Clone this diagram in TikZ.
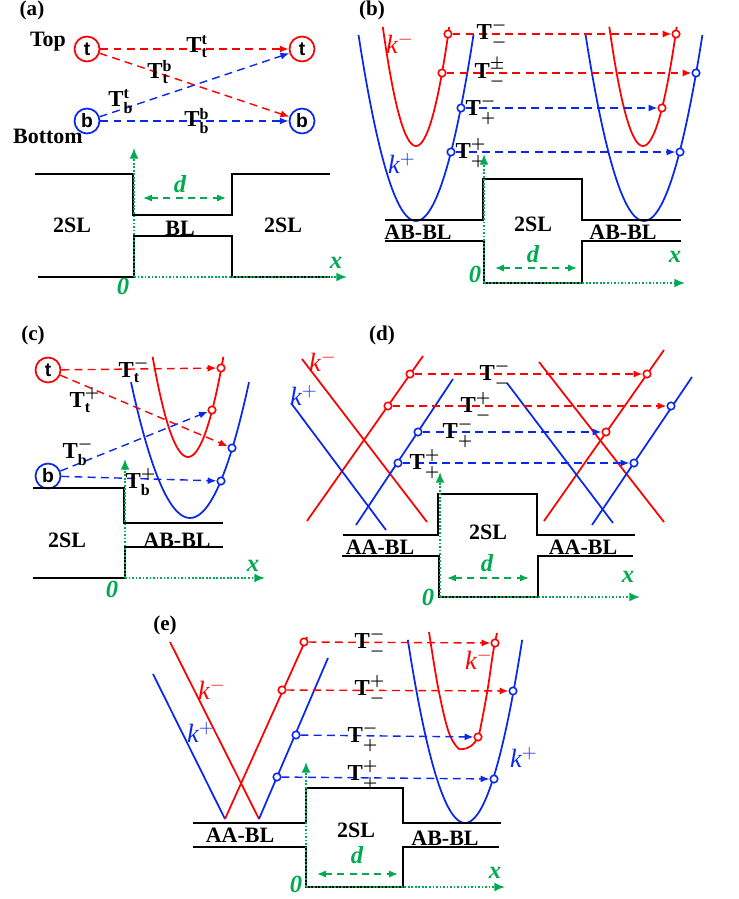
\documentclass[tikz,border=0pt]{standalone}
\usepackage{amsmath,amssymb}
\usepackage{fontspec}
\setmainfont{Liberation Serif}
\setsansfont{Liberation Sans}
\usepackage{tikz}
\usetikzlibrary{arrows.meta,positioning,calc}
\definecolor{rojo}{RGB}{255,0,0}
\definecolor{azul}{RGB}{10,40,235}
\definecolor{verde}{RGB}{0,170,80}
\newcommand\Tcoef[2]{$\mathbf{T}^{#1}_{#2}$}
\newcommand\mns{\boldsymbol{-}}
\newcommand\pls{\boldsymbol{+}}
\tikzset{
  perfil/.style={line width=1.1pt,black},
  banda/.style={line width=1pt,smooth,samples=41},
  eje/.style={verde,line width=1pt,densely dotted,-{Latex[length=6pt,width=5pt]}},
  cota/.style={verde,line width=0.8pt,dash pattern=on 4pt off 3pt,
               {Latex[length=5pt,width=4pt]}-{Latex[length=5pt,width=4pt]}},
  salto/.style={line width=0.8pt,dash pattern=on 4.5pt off 3pt,-{Latex[length=5pt,width=4pt]}},
  pto/.style={circle,draw,fill=white,line width=0.9pt,inner sep=0pt,minimum size=0.15cm},
  capa/.style={circle,draw,line width=1pt,inner sep=0pt,minimum size=0.5cm,
               font=\sffamily\bfseries\fontsize{11}{12}\selectfont},
  rot/.style={inner sep=0pt,font=\bfseries\fontsize{12.5}{14}\selectfont},
  panel/.style={inner sep=0pt,font=\bfseries\fontsize{12}{13}\selectfont},
  coef/.style={inner sep=0pt,font=\fontsize{13}{14}\selectfont},
  var/.style={inner sep=0pt,verde,font=\bfseries\itshape\fontsize{14}{15}\selectfont},
  onda/.style={inner sep=0pt,font=\itshape\fontsize{15}{16}\selectfont},
}
\begin{document}
\begin{tikzpicture}[x=0.02cm,y=-0.02cm]
\useasboundingbox (0,0) rectangle (738,899);

\node[panel] (pa) at (32,10) {(a)};
\node[rot] (top) at (48,42) {Top};
\node[rot] (bot) at (48,136) {Bottom};
\node[capa,draw=rojo] (tL) at (87,49) {t};
\node[capa,draw=rojo] (tR) at (302,49) {t};
\node[capa,draw=azul] (bL) at (87,121) {b};
\node[capa,draw=azul] (bR) at (302,121) {b};
\draw[salto,rojo] (tL) -- (tR);
\draw[salto,rojo] (tL) -- (bR);
\draw[salto,azul] (bL) -- (tR);
\draw[salto,azul] (bL) -- (bR);
\node[coef] (att) at (197,47) {\Tcoef{\mathbf{t}}{\mathbf{t}}};
\node[coef] (atb) at (160,72) {\Tcoef{\mathbf{b}}{\mathbf{t}}};
\node[coef] (abt) at (121,102) {\Tcoef{\mathbf{t}}{\mathbf{b}}};
\node[coef] (abb) at (197,121) {\Tcoef{\mathbf{b}}{\mathbf{b}}};
\draw[perfil] (35,174) -- (133,174) -- (133,215) -- (232,215) -- (232,174) -- (330,174);
\draw[perfil] (38,277) -- (134,277) -- (134,236) -- (232,236) -- (232,277) -- (330,277);
\coordinate (oa) at (134,277);
\draw[eje] (oa) -- ++(0,-129);
\draw[eje] (oa) -- ++(213,0);
\draw[cota] (143,198) -- (226,198);
\node[var] (da) at (180,184) {d};
\node[var] (za) at (123,286) {0};
\node[var] (xa) at (336,263) {x};
\node[rot] (sla) at (72,225) {2SL};
\node[rot] (bla) at (180,228) {BL};
\node[rot] (sra) at (283,225) {2SL};

\node[panel] (pb) at (372,10) {(b)};
\draw[banda,azul] plot[domain=-57.5:57.5] ({416+\x},{221-0.0563*(\x)^2});
\draw[banda,rojo] plot[domain=-33.2:33.2] ({416+\x},{146-0.108*(\x)^2});
\draw[banda,azul] plot[domain=-58.4:58.4] ({644+\x},{221-0.0545*(\x)^2});
\draw[banda,rojo] plot[domain=-33.7:33.7] ({643+\x},{146-0.105*(\x)^2});
\node[onda,rojo] (kmb) at (400,43) {k$^{-}$};
\node[onda,azul] (kpb) at (402,163) {k$^{+}$};
\node[pto,draw=rojo] (b1) at (448,34) {};
\node[pto,draw=rojo] (b2) at (442,73) {};
\node[pto,draw=azul] (b3) at (461,108) {};
\node[pto,draw=azul] (b4) at (451,152) {};
\node[pto,draw=rojo] (b1r) at (676,34) {};
\node[pto,draw=azul] (b2r) at (696,73) {};
\node[pto,draw=rojo] (b3r) at (662,108) {};
\node[pto,draw=azul] (b4r) at (680,152) {};
\draw[salto,rojo] (b1) -- (b1r);
\draw[salto,rojo] (b2) -- (b2r);
\draw[salto,azul] (b3) -- (b3r);
\draw[salto,azul] (b4) -- (b4r);
\node[coef] (bmm) at (492,34) {\Tcoef{\mns}{\mns}};
\node[coef] (bmp) at (490,73) {\Tcoef{\boldsymbol{\pm}}{\mns}};
\node[coef] (bpm) at (481,110) {\Tcoef{\mns}{\pls}};
\node[coef] (bpp) at (471,153) {\Tcoef{\pls}{\pls}};
\draw[perfil] (385,220) -- (483,220) -- (483,179) -- (582,179) -- (582,220) -- (681,220);
\draw[perfil] (385,241) -- (484,241) -- (484,283) -- (582,283) -- (582,241) -- (681,241);
\coordinate (ob) at (484,283);
\draw[eje] (ob) -- ++(0,-129);
\draw[eje] (ob) -- ++(201,0);
\draw[cota] (495,268) -- (577,268);
\node[var] (db) at (533,254) {d};
\node[var] (zb) at (475,274) {0};
\node[var] (xb) at (675,257) {x};
\node[rot] (slb) at (533,224) {2SL};
\node[rot] (alb) at (418,232) {AB-BL};
\node[rot] (arb) at (623,232) {AB-BL};

\node[panel] (pc) at (33,335) {(c)};
\draw[banda,rojo] plot[domain=-35.4:35.4] ({188+\x},{457-0.08*(\x)^2});
\draw[banda,azul] plot[domain=-59:59] ({190+\x},{518-0.039*(\x)^2});
\node[capa,draw=rojo] (tc) at (48,370) {t};
\node[capa,draw=azul] (bc) at (48,476) {b};
\node[pto,draw=rojo] (c1) at (221,368) {};
\node[pto,draw=rojo] (c2) at (212,410) {};
\node[pto,draw=azul] (c3) at (232,448) {};
\node[pto,draw=azul] (c4) at (221,481) {};
\draw[salto,rojo] (tc) -- (c1);
\draw[salto,rojo] (tc) -- (c3);
\draw[salto,azul] (bc) -- (c2);
\draw[salto,azul] (bc) -- (c4);
\node[coef] (ctm) at (134,370) {\Tcoef{\mns}{\mathbf{t}}};
\node[coef] (ctp) at (85,400) {\Tcoef{\pls}{\mathbf{t}}};
\node[coef] (cbm) at (78,452) {\Tcoef{\mns}{\mathbf{b}}};
\node[coef] (cbp) at (141,482) {\Tcoef{\pls}{\mathbf{b}}};
\draw[perfil] (33,488) -- (124,488) -- (124,523) -- (223,523);
\draw[perfil] (33,578) -- (125,578) -- (125,547) -- (223,547);
\coordinate (oc) at (125,578);
\draw[eje] (oc) -- ++(0,-119);
\draw[eje] (oc) -- ++(140,0);
\node[var] (zc) at (112,589) {0};
\node[var] (xc) at (253,566) {x};
\node[rot] (slc) at (67,540) {2SL};
\node[rot] (alc) at (177,540) {AB-BL};

\node[panel] (pd) at (382,335) {(d)};
\draw[banda,rojo] (302,359) -- (427,522);
\draw[banda,rojo] (307,521) -- (423,356);
\draw[banda,azul] (291,403) -- (386,530);
\draw[banda,azul] (356,525) -- (453,379);
\draw[banda,rojo] (539,362) -- (664,522);
\draw[banda,rojo] (544,521) -- (664,350);
\draw[banda,azul] (507,383) -- (613,523);
\draw[banda,azul] (592,525) -- (692,377);
\node[onda,rojo] (kmd) at (323,361) {k$^{-}$};
\node[onda,azul] (kpd) at (304,395) {k$^{+}$};
\node[pto,draw=rojo] (d1) at (410,374) {};
\node[pto,draw=rojo] (d2) at (388,406) {};
\node[pto,draw=azul] (d3) at (418,432) {};
\node[pto,draw=azul] (d4) at (398,463) {};
\node[pto,draw=rojo] (d1r) at (647,374) {};
\node[pto,draw=azul] (d2r) at (671,406) {};
\node[pto,draw=rojo] (d3r) at (606,432) {};
\node[pto,draw=azul] (d4r) at (634,463) {};
\draw[salto,rojo] (d1) -- (d1r);
\draw[salto,rojo] (d2) -- (d2r);
\draw[salto,azul] (d3) -- (d3r);
\draw[salto,azul] (d4) -- (d4r);
\node[coef] (dmm) at (495,375) {\Tcoef{\mns}{\mns}};
\node[coef] (dmp) at (476,407) {\Tcoef{\pls}{\mns}};
\node[coef] (dpm) at (458,433) {\Tcoef{\mns}{\pls}};
\node[coef] (dpp) at (425,464) {\Tcoef{\pls}{\pls}};
\draw[perfil] (343,535) -- (438,535) -- (438,494) -- (537,494) -- (537,535) -- (635,535);
\draw[perfil] (342,556) -- (439,556) -- (439,597) -- (538,597) -- (538,556) -- (633,556);
\coordinate (od) at (440,597);
\draw[eje] (od) -- ++(0,-125);
\draw[eje] (od) -- ++(200,0);
\draw[cota] (447,578) -- (529,578);
\node[var] (dd) at (487,563) {d};
\node[var] (zd) at (428,597) {0};
\node[var] (xd) at (628,577) {x};
\node[rot] (sld) at (488,532) {2SL};
\node[rot] (ald) at (380,547) {AA-BL};
\node[rot] (ard) at (583,547) {AA-BL};

\node[panel] (pe) at (165,625) {(e)};
\draw[banda,azul] (153,674) -- (225,819);
\draw[banda,rojo] (170,642) -- (259,819);
\draw[banda,rojo] (225,819) -- (307,637);
\draw[banda,azul] (259,819) -- (328,658);
\draw[banda,azul] plot[domain=-57.2:57.2] ({465+\x},{823-0.056*(\x)^2});
\draw[banda,rojo] plot[tension=0.6] coordinates {(429,632) (438,687) (448,730) (457,747)
  (463,749) (471,746) (478,737) (482,720) (488,687) (493,653) (497,633)};
\node[onda,rojo] (kme) at (212,689) {k$^{-}$};
\node[onda,azul] (kpe) at (201,732) {k$^{+}$};
\node[onda,rojo] (kmer) at (479,659) {k$^{-}$};
\node[onda,azul] (kper) at (524,757) {k$^{+}$};
\node[pto,draw=rojo] (e1) at (304,642) {};
\node[pto,draw=rojo] (e2) at (282,690) {};
\node[pto,draw=azul] (e3) at (296,735) {};
\node[pto,draw=azul] (e4) at (277,777) {};
\node[pto,draw=rojo] (e1r) at (495,643) {};
\node[pto,draw=azul] (e2r) at (513,691) {};
\node[pto,draw=rojo] (e3r) at (478,737) {};
\node[pto,draw=azul] (e4r) at (494,779) {};
\draw[salto,rojo] (e1) -- (e1r);
\draw[salto,rojo] (e2) -- (e2r);
\draw[salto,azul] (e3) -- (e3r);
\draw[salto,azul] (e4) -- (e4r);
\node[coef] (emm) at (370,643) {\Tcoef{\mns}{\mns}};
\node[coef] (emp) at (370,690) {\Tcoef{\pls}{\mns}};
\node[coef] (epm) at (363,737) {\Tcoef{\mns}{\pls}};
\node[coef] (epp) at (363,775) {\Tcoef{\pls}{\pls}};
\draw[perfil] (193,823) -- (306,823) -- (306,788) -- (403,788) -- (403,823) -- (501,823);
\draw[perfil] (193,847) -- (306,847) -- (306,887) -- (403,887) -- (403,847) -- (499,847);
\coordinate (oe) at (306,887);
\draw[eje] (oe) -- ++(0,-125);
\draw[eje] (oe) -- ++(199,0);
\draw[cota] (317,874) -- (398,874);
\node[var] (de) at (357,855) {d};
\node[var] (ze) at (296,884) {0};
\node[var] (xe) at (495,873) {x};
\node[rot] (sle) at (356,830) {2SL};
\node[rot] (ale) at (240,835) {AA-BL};
\node[rot] (are) at (445,838) {AB-BL};
\end{tikzpicture}
\end{document}
